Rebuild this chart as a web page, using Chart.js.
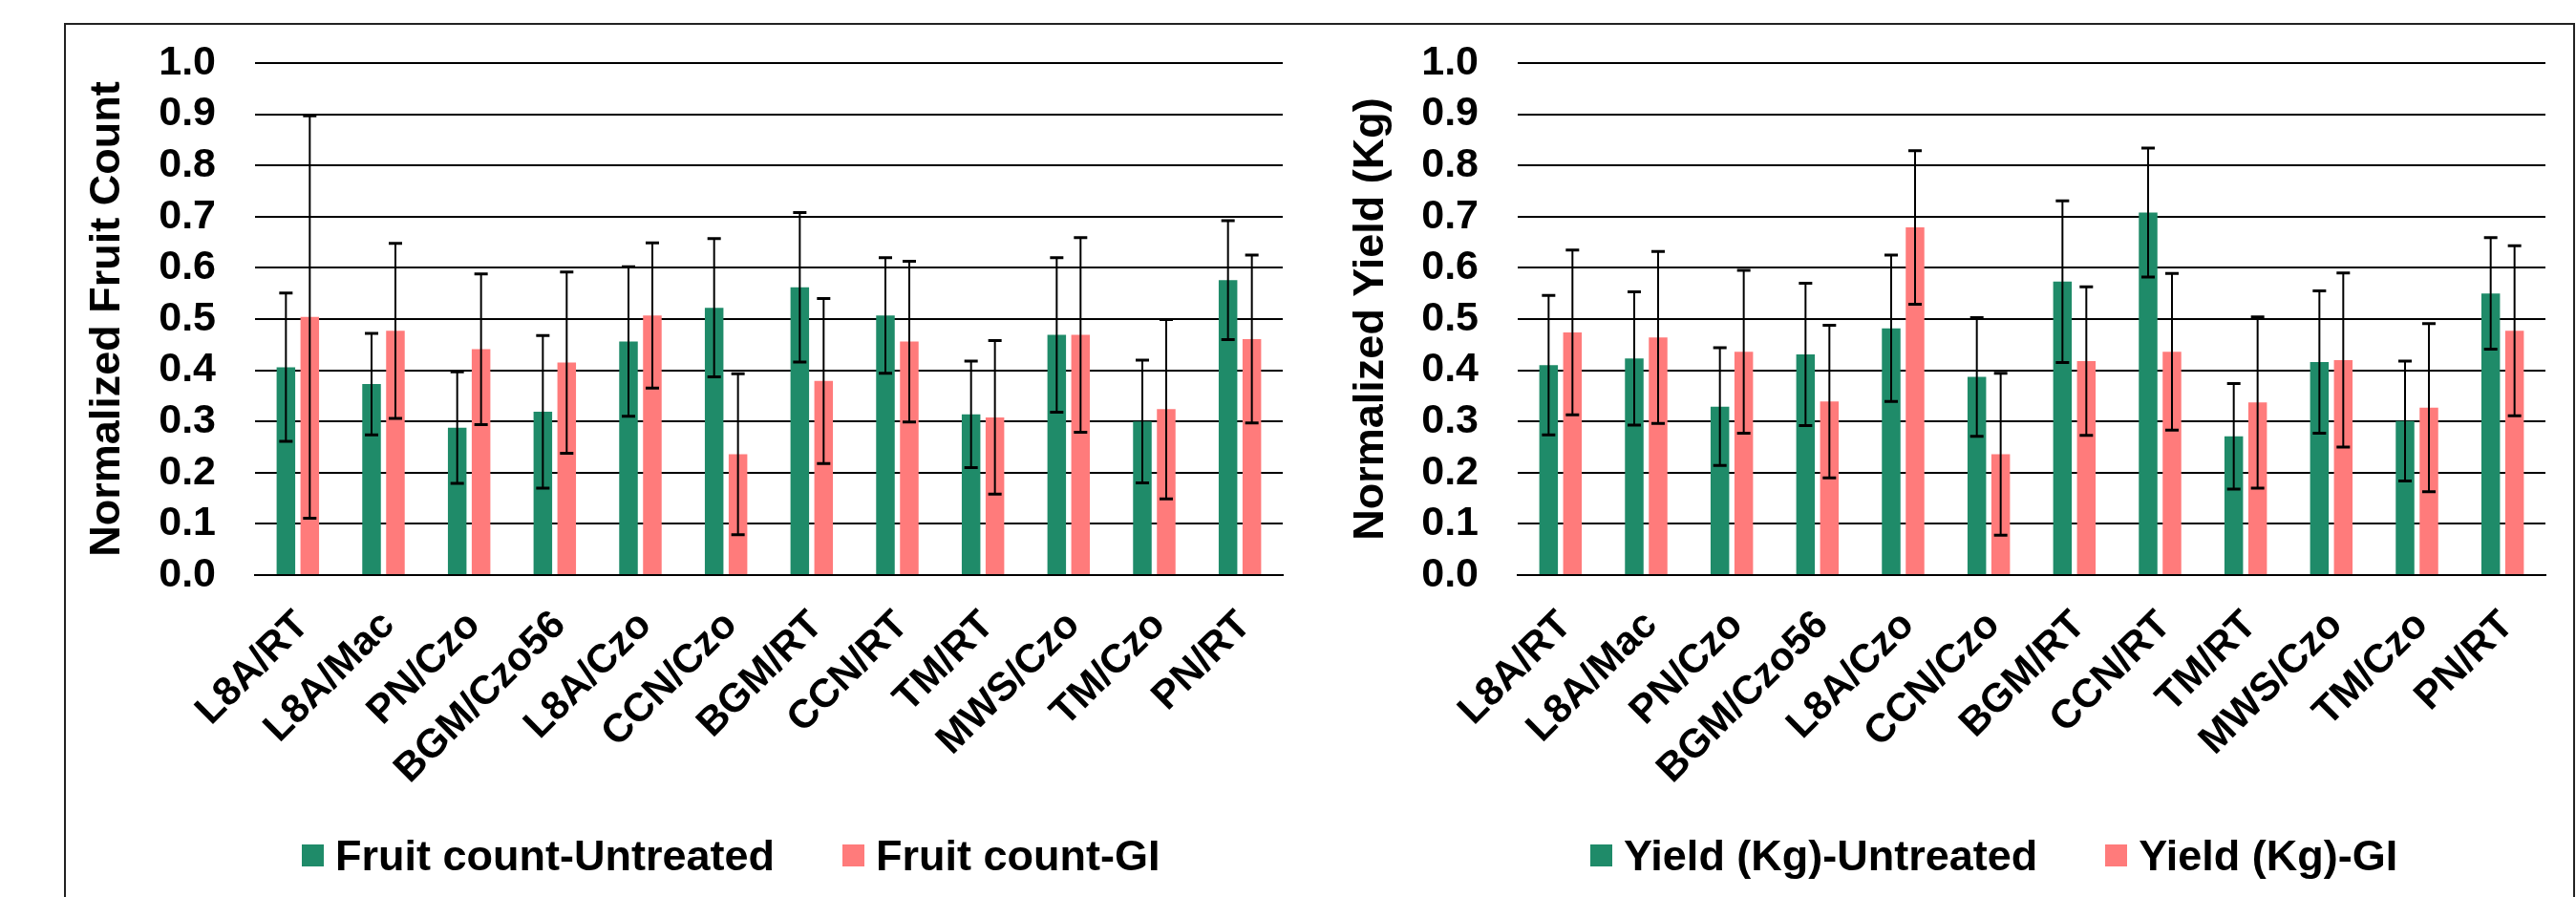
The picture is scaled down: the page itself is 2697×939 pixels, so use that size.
<!DOCTYPE html>
<html>
<head>
<meta charset="utf-8">
<script src="https://cdn.jsdelivr.net/npm/chart.js@4.4.1/dist/chart.umd.min.js"></script>
<style>
    body { margin: 0; width: 2697px; height: 939px; overflow: hidden; background: #fff; font-family: "Liberation Sans", Arial, sans-serif; }
    #frame { position: absolute; left: 67px; top: 24px; width: 2629px; height: 1000px; border: 2px solid #222; box-sizing: border-box; pointer-events: none; }
    canvas { position: absolute; top: 25px; }
    #fruitChart { left: 68px; }
    #yieldChart { left: 1368px; }
    .legend { position: absolute; top: 873px; height: 45px; display: flex; align-items: center; font-weight: bold; font-size: 45px; line-height: 1; color: #000; white-space: nowrap; }
    .legend .item { display: flex; align-items: center; }
    .legend .item + .item { margin-left: 71px; }
    .legend .box { width: 23px; height: 23px; margin-right: 12px; }
</style>
</head>
<body>
<canvas id="fruitChart" width="1300" height="914"></canvas>
<canvas id="yieldChart" width="1329" height="914"></canvas>
<div id="fruitLegend" class="legend" style="left:316px"></div>
<div id="yieldLegend" class="legend" style="left:1665px"></div>
<div id="frame"></div>
<script>
// Data
const categories = ['L8A/RT', 'L8A/Mac', 'PN/Czo', 'BGM/Czo56', 'L8A/Czo', 'CCN/Czo',
    'BGM/RT', 'CCN/RT', 'TM/RT', 'MWS/Czo', 'TM/Czo', 'PN/RT'];
const yTicks = [0, 0.1, 0.2, 0.3, 0.4, 0.5, 0.6, 0.7, 0.8, 0.9, 1.0];

const fruitUntreated = [0.406, 0.373, 0.288, 0.319, 0.456, 0.522, 0.562, 0.507, 0.314, 0.469, 0.300, 0.576];
const fruitUntreatedErr = [0.145, 0.099, 0.109, 0.149, 0.146, 0.135, 0.146, 0.113, 0.104, 0.151, 0.120, 0.116];
const fruitGI = [0.504, 0.477, 0.441, 0.415, 0.507, 0.236, 0.379, 0.456, 0.308, 0.469, 0.324, 0.461];
const fruitGIErr = [0.393, 0.171, 0.147, 0.177, 0.142, 0.157, 0.161, 0.157, 0.150, 0.190, 0.175, 0.164];

const yieldUntreated = [0.410, 0.423, 0.329, 0.431, 0.482, 0.387, 0.573, 0.708, 0.271, 0.416, 0.301, 0.550];
const yieldUntreatedErr = [0.136, 0.130, 0.115, 0.139, 0.143, 0.116, 0.158, 0.126, 0.103, 0.139, 0.117, 0.109];
const yieldGI = [0.474, 0.464, 0.436, 0.339, 0.679, 0.236, 0.418, 0.436, 0.337, 0.420, 0.327, 0.477];
const yieldGIErr = [0.161, 0.168, 0.159, 0.149, 0.150, 0.158, 0.145, 0.153, 0.167, 0.170, 0.164, 0.166];

const GREEN = '#1f8b69';
const PINK = '#ff7b7b';
const FONT = '"Liberation Sans", Arial, sans-serif';

// Error bars drawn with the chart's own y scale
const errorBars = {
    id: 'errorBars',
    afterDatasetsDraw(chart) {
        const ctx = chart.ctx;
        const y = chart.scales.y;
        ctx.save();
        ctx.strokeStyle = '#000';
        chart.data.datasets.forEach((ds, i) => {
            chart.getDatasetMeta(i).data.forEach((bar, j) => {
                const v = ds.data[j];
                const e = ds.errors[j];
                const top = y.getPixelForValue(v + e);
                const bot = y.getPixelForValue(Math.max(0, v - e));
                ctx.lineWidth = 2;
                ctx.beginPath();
                ctx.moveTo(bar.x, top); ctx.lineTo(bar.x, bot);
                ctx.stroke();
                ctx.lineWidth = 3;
                ctx.beginPath();
                ctx.moveTo(bar.x - 7, top); ctx.lineTo(bar.x + 7, top);
                ctx.moveTo(bar.x - 7, bot); ctx.lineTo(bar.x + 7, bot);
                ctx.stroke();
            });
        });
        ctx.restore();
    }
};

function makeChart(id, title, series, axisWidth, titlePad, padRight) {
    const ctx = document.getElementById(id).getContext('2d');
    return new Chart(ctx, {
        type: 'bar',
        data: {
            labels: categories,
            datasets: series.map(s => ({
                label: s.label,
                data: s.data,
                errors: s.errors,
                backgroundColor: s.color,
                borderWidth: 0,
                categoryPercentage: 0.557,
                barPercentage: 0.78
            }))
        },
        options: {
            responsive: false,
            animation: false,
            devicePixelRatio: 1,
            layout: { padding: { top: 41, right: padRight, bottom: 37, left: 0 } },
            plugins: { legend: { display: false }, tooltip: { enabled: false } },
            scales: {
                x: {
                    grid: { display: false },
                    border: { display: true, color: '#000', width: 2 },
                    ticks: {
                        color: '#000',
                        font: { family: FONT, size: 42, weight: 'bold' },
                        minRotation: 45,
                        maxRotation: 45,
                        autoSkip: false,
                        padding: 20,
                        labelOffset: 5
                    },
                    afterFit(scale) {
                        scale.height = 300;
                        scale.paddingLeft = 0;
                        scale.paddingRight = 0;
                    }
                },
                y: {
                    min: 0,
                    max: 1,
                    afterBuildTicks(scale) { scale.ticks = yTicks.map(v => ({ value: v })); },
                    grid: { color: '#000', lineWidth: 2, drawTicks: false },
                    border: { display: false },
                    ticks: {
                        color: '#000',
                        padding: 41,
                        autoSkip: false,
                        font: { family: FONT, size: 43, weight: 'bold' },
                        callback: v => Number(v).toFixed(1)
                    },
                    title: {
                        display: true,
                        text: title,
                        color: '#000',
                        font: { family: FONT, size: 45, weight: 'bold' },
                        padding: { top: titlePad, bottom: 0 }
                    },
                    afterFit(scale) {
                        scale.width = axisWidth;
                        scale.paddingTop = 0;
                        scale.paddingBottom = 0;
                    }
                }
            }
        },
        plugins: [errorBars]
    });
}

function buildLegend(id, series) {
    const el = document.getElementById(id);
    series.forEach(s => {
        const item = document.createElement('div');
        item.className = 'item';
        item.innerHTML = `<span class="box" style="background:${s.color}"></span><span>${s.label}</span>`;
        el.appendChild(item);
    });
}

const fruitSeries = [
    { label: 'Fruit count-Untreated', data: fruitUntreated, errors: fruitUntreatedErr, color: GREEN },
    { label: 'Fruit count-GI', data: fruitGI, errors: fruitGIErr, color: PINK }
];
const yieldSeries = [
    { label: 'Yield (Kg)-Untreated', data: yieldUntreated, errors: yieldUntreatedErr, color: GREEN },
    { label: 'Yield (Kg)-GI', data: yieldGI, errors: yieldGIErr, color: PINK }
];

makeChart('fruitChart', 'Normalized Fruit Count', fruitSeries, 199, 18, 25);
makeChart('yieldChart', 'Normalized Yield (Kg)', yieldSeries, 221, 41, 32);
buildLegend('fruitLegend', fruitSeries);
buildLegend('yieldLegend', yieldSeries);
</script>
</body>
</html>
